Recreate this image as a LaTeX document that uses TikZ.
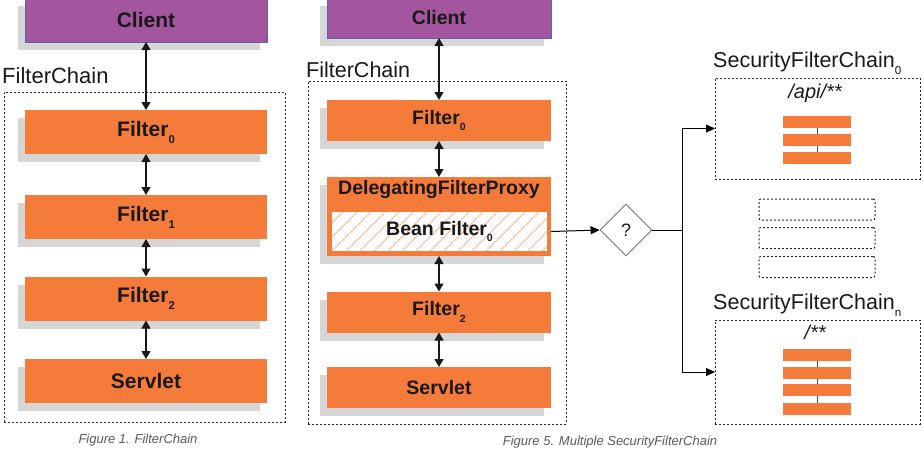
\documentclass[tikz,border=0pt]{standalone}
\usepackage{fontspec}
\setmainfont{Liberation Sans}
\usepackage{graphicx}
\usetikzlibrary{shapes.geometric,arrows.meta,shadows,calc}
\definecolor{org}{RGB}{245,123,58}
\definecolor{hatchc}{RGB}{248,170,130}
\definecolor{purp}{RGB}{163,86,158}
\definecolor{pborder}{RGB}{95,95,170}
\definecolor{shd}{RGB}{214,214,214}
\definecolor{txt}{RGB}{25,25,25}
\newcommand\lowsub[1]{\raisebox{-0.33em}{\scalebox{0.54}{#1}}}
\begin{document}
\begin{tikzpicture}[x=1pt,y=-1pt,
  shad/.style={general shadow={shadow xshift=-7pt,shadow yshift=-8pt,fill=shd}},
  obox/.style={fill=org, shad, minimum width=242pt, minimum height=44pt, inner sep=0pt, outer sep=0pt,
     font=\fontsize{21}{24}\selectfont\bfseries, text=txt},
  mbox/.style={obox, minimum width=224pt, minimum height=41pt, font=\fontsize{19.5}{22}\selectfont\bfseries},
  cbox/.style={fill=purp, draw=pborder, line width=0.8pt},
  dbl/.style={{Triangle[length=8pt,width=9pt]}-{Triangle[length=8pt,width=9pt]}, line width=1.1pt, draw=txt},
  flow/.style={-{Triangle[length=9pt,width=8pt]}, line width=1pt, draw=black},
  dotbox/.style={draw=black!85, dash pattern=on 2pt off 2pt, line width=1pt, inner sep=0pt, outer sep=0pt},
  bar/.style={fill=org, minimum width=68pt, minimum height=12pt, inner sep=0pt, outer sep=0pt},
  lbl/.style={inner sep=0pt, font=\fontsize{22}{24}\selectfont, text=txt},
  captext/.style={inner sep=0pt, font=\fontsize{13}{15}\selectfont\itshape, text=black!65},
  hatch/.style={draw=hatchc, line width=0.7pt}
]
\useasboundingbox (0,0) rectangle (923,451);

% ---------- Left figure ----------
\node[dotbox, minimum width=281pt, minimum height=330pt] (fc1) at (144.5,257) {};
\node[lbl, anchor=base west] (fcl1) at (2,83) {FilterChain};
\node[obox, cbox] (c1) at (146,20) {Client};
\node[obox] (f10) at (146,132) {Filter\lowsub{0}};
\node[obox] (f11) at (146,217) {Filter\lowsub{1}};
\node[obox] (f12) at (146,298.5) {Filter\lowsub{2}};
\node[obox] (s1) at (146,381) {Servlet};
\draw[dbl] (c1.south) -- (f10.north);
\draw[dbl] (f10.south) -- (f11.north);
\draw[dbl] (f11.south) -- (f12.north);
\draw[dbl] (f12.south) -- (s1.north);
\node[captext, anchor=base] (cap1) at (138,443) {Figure 1. FilterChain};

% ---------- Middle figure ----------
\node[dotbox, minimum width=258pt, minimum height=343pt] (fc2) at (437,252.5) {};
\node[lbl, anchor=base west, font=\fontsize{21.5}{24}\selectfont] (fcl2) at (306,77) {FilterChain};
\node[mbox, cbox, minimum height=40pt] (c2) at (439,18) {Client};
\node[mbox] (f20) at (439,120.5) {Filter\lowsub{0}};
\node[mbox, minimum height=79pt] (dfp) at (439,216.5) {};
\node[inner sep=0pt, font=\fontsize{19.5}{22}\selectfont\bfseries, text=txt] (dfpl) at (439,189) {DelegatingFilterProxy};
\node[fill=white, minimum width=215pt, minimum height=39pt, inner sep=0pt, outer sep=0pt,
      font=\fontsize{19.5}{22}\selectfont\bfseries, text=txt,
      path picture={\foreach \i in {-3,...,17}
        \draw[hatch] ($(path picture bounding box.south west)+(\i*14,0)$) -- ++(45,-45);}]
      (bean) at (439.5,231.5) {Bean Filter\lowsub{0}};
\node[mbox] (f22) at (439,312) {Filter\lowsub{2}};
\node[mbox] (s2) at (439,387.5) {Servlet};
\draw[dbl] (c2.south) -- (f20.north);
\draw[dbl] (f20.south) -- (dfp.north);
\draw[dbl] (dfp.south) -- (f22.north);
\draw[dbl] (f22.south) -- (s2.north);
\node[captext, anchor=base] (cap2) at (610,445) {Figure 5. Multiple SecurityFilterChain};

% ---------- Decision ----------
\node[draw=black!55, line width=0.9pt, shape=diamond, aspect=1, minimum width=52pt, minimum height=52pt,
      inner sep=0pt, font=\fontsize{18}{20}\selectfont, text=txt] (q) at (626,230) {?};
\draw[flow] (dfp.east |- bean.east) -- (q.west);
\coordinate (j) at (682,230);
\draw[line width=1pt, draw=black] (q.east) -- (j);

% ---------- SecurityFilterChain 0 ----------
\node[dotbox, minimum width=205pt, minimum height=101pt] (sc0) at (817.5,128.5) {};
\node[lbl, anchor=base west, font=\fontsize{21.5}{24}\selectfont] (scl0) at (713,67) {SecurityFilterChain\lowsub{0}};
\node[inner sep=0pt, anchor=base, font=\fontsize{20}{22}\selectfont\itshape, text=txt] (p0) at (815,98) {/api/**};
\node[bar] (b01) at (817,122) {};
\node[bar] (b02) at (817,140) {};
\node[bar] (b03) at (817,158) {};
\draw[line width=0.6pt, draw=black!70] (b01) -- (b02) (b02) -- (b03);

% ---------- placeholders ----------
\node[dotbox, rounded corners=2pt, minimum width=116pt, minimum height=21pt] (m1) at (817,209.5) {};
\node[dotbox, rounded corners=2pt, minimum width=116pt, minimum height=21pt] (m2) at (817,238) {};
\node[dotbox, rounded corners=2pt, minimum width=116pt, minimum height=21pt] (m3) at (817,267) {};

% ---------- SecurityFilterChain n ----------
\node[dotbox, minimum width=205pt, minimum height=104pt] (scn) at (817.5,372) {};
\node[lbl, anchor=base west, font=\fontsize{21.5}{24}\selectfont] (scln) at (713,309) {SecurityFilterChain\lowsub{n}};
\node[inner sep=0pt, anchor=base, font=\fontsize{20}{22}\selectfont\itshape, text=txt] (pn) at (815,339) {/**};
\node[bar] (bn1) at (817,355) {};
\node[bar] (bn2) at (817,373) {};
\node[bar] (bn3) at (817,390) {};
\node[bar] (bn4) at (817,409) {};
\draw[line width=0.6pt, draw=black!70] (bn1) -- (bn2) (bn2) -- (bn3) (bn3) -- (bn4);

\draw[flow] (j) |- (sc0.west);
\draw[flow] (j) |- (scn.west);
\end{tikzpicture}
\end{document}
